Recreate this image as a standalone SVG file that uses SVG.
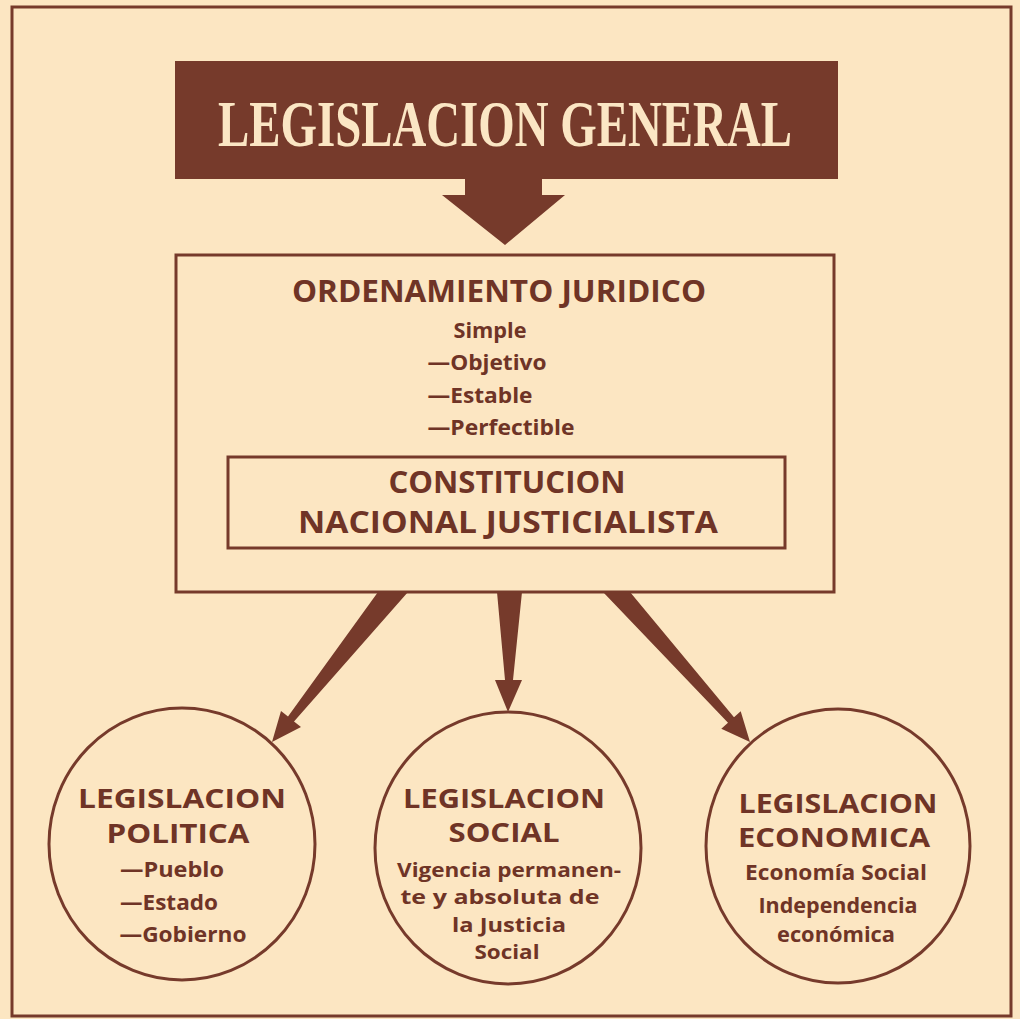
<svg xmlns="http://www.w3.org/2000/svg" width="1020" height="1019" viewBox="0 0 1020 1019">
<style>
.ink{fill:#763a2b}
.line{fill:none;stroke:#763a2b;stroke-width:3}
.t{font-family:"Open Sans","Liberation Sans",sans-serif;font-weight:bold;fill:#6f3426;text-anchor:middle}
.h{font-size:30px}
.c{font-size:27px}
.s{font-size:22px}
.v{font-size:20px}
.title{font-family:"Liberation Serif","DejaVu Serif",serif;font-weight:bold;font-size:66px;fill:#fbe6c4;text-anchor:middle}
</style>
<rect x="0" y="0" width="1020" height="1019" fill="#fce6c2"/>
<rect x="12" y="7" width="999" height="1009" class="line"/>
<g id="title">
<rect x="175" y="61" width="663" height="118" class="ink"/>
<text class="title" x="505" y="146" textLength="574" lengthAdjust="spacingAndGlyphs">LEGISLACION  GENERAL</text>
</g>
<g id="connectors">
<polygon class="ink" points="465,178 542,178 542,195 565,195 505,245 442,195 465,195"/>
<polygon class="ink" points="378,592 408,592 294,721.5 301,727 272,742 281,711 288,716.5"/>
<polygon class="ink" points="497,592 522,592 513,680 522,680 508,712 495,680 505,680"/>
<polygon class="ink" points="603,592 630,592 734,717.3 740.7,711.3 750,742 721.3,728.7 728,722.7"/>
</g>
<g id="ordenamiento">
<rect x="176" y="255" width="658" height="337" class="line"/>
<text class="t h" x="499" y="302" textLength="414" lengthAdjust="spacingAndGlyphs">ORDENAMIENTO  JURIDICO</text>
<text class="t s" x="490" y="338" textLength="73" lengthAdjust="spacingAndGlyphs">Simple</text>
<text class="t s" x="487" y="370" textLength="119" lengthAdjust="spacingAndGlyphs">—Objetivo</text>
<text class="t s" x="480" y="403" textLength="105" lengthAdjust="spacingAndGlyphs">—Estable</text>
<text class="t s" x="501" y="435" textLength="147" lengthAdjust="spacingAndGlyphs">—Perfectible</text>
</g>
<g id="constitucion">
<rect x="228" y="457" width="557" height="91" class="line"/>
<text class="t h" x="507" y="493" textLength="237" lengthAdjust="spacingAndGlyphs">CONSTITUCION</text>
<text class="t h" x="508" y="533" textLength="420" lengthAdjust="spacingAndGlyphs">NACIONAL  JUSTICIALISTA</text>
</g>
<g id="politica">
<ellipse cx="182" cy="844" rx="133" ry="136" class="line"/>
<text class="t c" x="182" y="808" textLength="208" lengthAdjust="spacingAndGlyphs">LEGISLACION</text>
<text class="t c" x="178" y="843" textLength="143" lengthAdjust="spacingAndGlyphs">POLITICA</text>
<text class="t s" x="172" y="877" textLength="104" lengthAdjust="spacingAndGlyphs">—Pueblo</text>
<text class="t s" x="169" y="910" textLength="98" lengthAdjust="spacingAndGlyphs">—Estado</text>
<text class="t s" x="183" y="942" textLength="127" lengthAdjust="spacingAndGlyphs">—Gobierno</text>
</g>
<g id="social">
<ellipse cx="508" cy="848" rx="133" ry="136" class="line"/>
<text class="t c" x="504" y="808" textLength="202" lengthAdjust="spacingAndGlyphs">LEGISLACION</text>
<text class="t c" x="504" y="842" textLength="111" lengthAdjust="spacingAndGlyphs">SOCIAL</text>
<text class="t v" x="509" y="877" textLength="224" lengthAdjust="spacingAndGlyphs">Vigencia permanen-</text>
<text class="t v" x="500" y="904" textLength="199" lengthAdjust="spacingAndGlyphs">te y absoluta de</text>
<text class="t v" x="509" y="932" textLength="114" lengthAdjust="spacingAndGlyphs">la Justicia</text>
<text class="t v" x="507" y="959" textLength="65" lengthAdjust="spacingAndGlyphs">Social</text>
</g>
<g id="economica">
<ellipse cx="838" cy="846" rx="132" ry="137" class="line"/>
<text class="t c" x="838" y="813" textLength="199" lengthAdjust="spacingAndGlyphs">LEGISLACION</text>
<text class="t c" x="834" y="847" textLength="192" lengthAdjust="spacingAndGlyphs">ECONOMICA</text>
<text class="t s" x="836" y="880" textLength="182" lengthAdjust="spacingAndGlyphs">Economía Social</text>
<text class="t s" x="838" y="913" textLength="159" lengthAdjust="spacingAndGlyphs">Independencia</text>
<text class="t s" x="836" y="942" textLength="118" lengthAdjust="spacingAndGlyphs">económica</text>
</g>
</svg>
